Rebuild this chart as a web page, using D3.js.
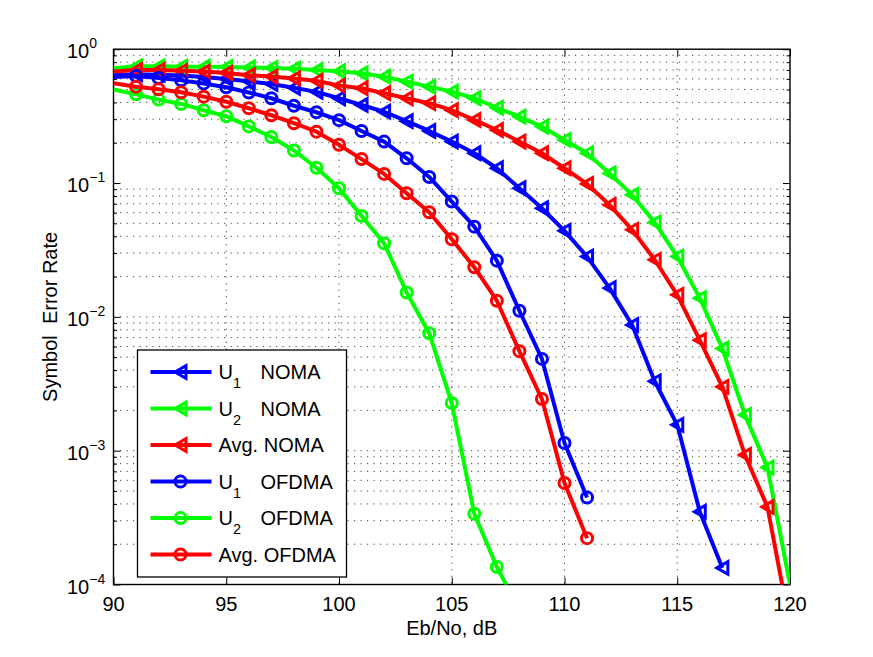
<!DOCTYPE html>
<html>
<head>
<meta charset="utf-8">
<script src="https://cdn.jsdelivr.net/npm/d3@7"></script>
<style>
  body { margin: 0; background: #fff; }
  text { font-family: "Liberation Sans", Arial, sans-serif; fill: #000; white-space: pre; }
</style>
</head>
<body>
<svg id="chart" width="873" height="657"></svg>
<script>
// Eb/No values (dB)
var ebnoNoma   = [90,91,92,93,94,95,96,97,98,99,100,101,102,103,104,105,106,107,108,109,110,111,112,113,114,115,116,117,118,119,120];
var ebnoU1Noma = [90,91,92,93,94,95,96,97,98,99,100,101,102,103,104,105,106,107,108,109,110,111,112,113,114,115,116,117];
var ebnoOfdma  = [90,91,92,93,94,95,96,97,98,99,100,101,102,103,104,105,106,107,108,109,110,111];
var ebnoU2Ofdma = [90,91,92,93,94,95,96,97,98,99,100,101,102,103,104,105,106,107,108];

// symbol error rates
var u1Noma = [0.64,0.65,0.645,0.635,0.62,0.60,0.575,0.55,0.515,0.48,0.43,0.383,0.341,0.29,0.245,0.204,0.167,0.129,0.0915,0.0648,0.0439,0.0282,0.0164,0.0087,0.0033,0.00156,0.00035,0.000133];
var u2Noma = [0.72,0.745,0.745,0.74,0.74,0.735,0.73,0.725,0.715,0.70,0.685,0.66,0.623,0.572,0.525,0.482,0.43,0.365,0.313,0.264,0.21,0.167,0.118,0.0815,0.0508,0.0282,0.0138,0.0058,0.00185,0.00075,0.0001];
var avgNoma = [0.68,0.70,0.70,0.69,0.68,0.665,0.64,0.625,0.605,0.58,0.535,0.511,0.469,0.43,0.395,0.35,0.296,0.249,0.204,0.167,0.129,0.0985,0.0686,0.0447,0.0267,0.0146,0.0067,0.003,0.00093,0.00038,0.000049];
var u1Ofdma = [0.62,0.63,0.61,0.585,0.555,0.52,0.475,0.43,0.378,0.338,0.295,0.245,0.204,0.153,0.111,0.0727,0.0472,0.0263,0.0111,0.00485,0.00114,0.000447];
var u2Ofdma = [0.5,0.46,0.42,0.39,0.35,0.315,0.265,0.221,0.175,0.13,0.0915,0.0568,0.0355,0.0152,0.00755,0.00227,0.000338,0.000135,0.000065];
var avgOfdma = [0.556,0.525,0.502,0.477,0.442,0.405,0.362,0.321,0.28,0.242,0.193,0.151,0.117,0.0839,0.0605,0.038,0.0235,0.0132,0.00554,0.00243,0.000573,0.000222];

var xTicks = [90,95,100,105,110,115,120];
var yExponents = [0,-1,-2,-3,-4];

var series = [
    {label: "U", sub: "1", rest: "NOMA",  color: "#0000ff", marker: "tri", x: ebnoU1Noma, y: u1Noma},
    {label: "U", sub: "2", rest: "NOMA",  color: "#00ff00", marker: "tri", x: ebnoNoma, y: u2Noma},
    {label: "Avg. NOMA", sub: null, rest: null, color: "#ff0000", marker: "tri", x: ebnoNoma, y: avgNoma},
    {label: "U", sub: "1", rest: "OFDMA", color: "#0000ff", marker: "circ", x: ebnoOfdma, y: u1Ofdma},
    {label: "U", sub: "2", rest: "OFDMA", color: "#00ff00", marker: "circ", x: ebnoU2Ofdma, y: u2Ofdma},
    {label: "Avg. OFDMA", sub: null, rest: null, color: "#ff0000", marker: "circ", x: ebnoOfdma, y: avgOfdma}
];

var pLeft = 113.5, pRight = 790, pTop = 49.2, pBottom = 584.5;
var svg = d3.select("#chart");

var xScale = d3.scaleLinear().domain([90, 120]).range([pLeft, pRight]);
var yScale = d3.scaleLog().domain([1e-4, 1]).range([pBottom, pTop]);

function isDecade(d) {
    var l = Math.log10(d);
    return Math.abs(l - Math.round(l)) < 1e-9;
}

// grid
var grid = svg.append("g").attr("stroke", "#000").attr("stroke-opacity", 0.75)
    .attr("stroke-width", 1).attr("stroke-dasharray", "1.2,5.3");
var minorVals = [];
yExponents.forEach(function (e) {
    if (e === 0) return;
    for (var m = 1; m <= 9; m++) minorVals.push(m * Math.pow(10, e));
});
grid.selectAll("line.h").data(minorVals.slice(1)).enter().append("line")
    .attr("x1", pLeft).attr("x2", pRight)
    .attr("y1", function (d) { return yScale(d); })
    .attr("y2", function (d) { return yScale(d); });
grid.selectAll("line.v").data(xTicks.slice(1, -1)).enter().append("line")
    .attr("y1", pTop).attr("y2", pBottom)
    .attr("x1", function (d) { return xScale(d); })
    .attr("x2", function (d) { return xScale(d); });

// axes box with inner ticks
var xAxisB = d3.axisBottom(xScale).tickValues(xTicks).tickSizeInner(-7).tickSizeOuter(0).tickFormat("");
var xAxisT = d3.axisTop(xScale).tickValues(xTicks).tickSizeInner(-7).tickSizeOuter(0).tickFormat("");
var yAxisL = d3.axisLeft(yScale).tickValues(minorVals.concat([1])).tickSizeOuter(0).tickFormat("");
var yAxisR = d3.axisRight(yScale).tickValues(minorVals.concat([1])).tickSizeOuter(0).tickFormat("");

function styleAxis(g) {
    g.select(".domain").remove();
    g.selectAll("line").attr("stroke", "#000").attr("stroke-width", 1);
}
svg.append("g").attr("transform", "translate(0," + pBottom + ")").call(xAxisB).call(styleAxis);
svg.append("g").attr("transform", "translate(0," + pTop + ")").call(xAxisT).call(styleAxis);
svg.append("g").attr("transform", "translate(" + pLeft + ",0)").call(yAxisL).call(styleAxis)
    .selectAll(".tick line").attr("x2", function (d) { return isDecade(d) ? 7 : 3.5; });
svg.append("g").attr("transform", "translate(" + pRight + ",0)").call(yAxisR).call(styleAxis)
    .selectAll(".tick line").attr("x2", function (d) { return isDecade(d) ? -7 : -3.5; });

svg.append("rect").attr("x", pLeft).attr("y", pTop)
    .attr("width", pRight - pLeft).attr("height", pBottom - pTop)
    .attr("fill", "none").attr("stroke", "#000").attr("stroke-width", 1.4);

// tick labels
svg.selectAll("text.xt").data(xTicks).enter().append("text")
    .attr("x", function (d) { return xScale(d); })
    .attr("y", pBottom + 26)
    .attr("text-anchor", "middle")
    .style("font-size", "20px")
    .text(function (d) { return d; });

var yl = svg.selectAll("text.yt").data(yExponents).enter().append("text")
    .attr("x", 67)
    .attr("y", function (d) { return yScale(Math.pow(10, d)) + 9; })
    .style("font-size", "20px");
yl.append("tspan").text("10");
yl.append("tspan").attr("dy", -10).style("font-size", "14px")
    .text(function (d) { return d === 0 ? "0" : "\u2212" + (-d); });

svg.append("text").attr("x", (pLeft + pRight) / 2).attr("y", pBottom + 50)
    .attr("text-anchor", "middle").style("font-size", "20px").text("Eb/No, dB");
svg.append("text").attr("transform", "translate(57," + ((pTop + pBottom) / 2) + ") rotate(-90)")
    .attr("text-anchor", "middle").style("font-size", "20px").text("Symbol  Error Rate");

// data
svg.append("clipPath").attr("id", "plotClip").append("rect")
    .attr("x", pLeft).attr("y", pTop).attr("width", pRight - pLeft).attr("height", pBottom - pTop);

var line = d3.line()
    .x(function (d) { return xScale(d[0]); })
    .y(function (d) { return yScale(d[1]); });

var triPath = "M-5.5,0L5.5,-6.3L5.5,6.3Z";

function drawMarker(g, s, px, py) {
    if (s.marker === "tri") {
        g.append("path").attr("d", triPath)
            .attr("transform", "translate(" + px + "," + py + ")")
            .attr("fill", "none").attr("stroke", s.color).attr("stroke-width", 3)
            .attr("stroke-linejoin", "miter");
    } else {
        g.append("circle").attr("cx", px).attr("cy", py).attr("r", 5.5)
            .attr("fill", "none").attr("stroke", s.color).attr("stroke-width", 3);
    }
}

var plot = svg.append("g").attr("clip-path", "url(#plotClip)");
series.forEach(function (s) {
    var pts = s.x.map(function (x, i) { return [x, s.y[i]]; });
    var g = plot.append("g");
    g.append("path").datum(pts).attr("d", line)
        .attr("fill", "none").attr("stroke", s.color).attr("stroke-width", 4)
        .attr("stroke-linejoin", "round");
    pts.forEach(function (p) {
        if (p[0] > 90 && p[0] < 120 && p[1] >= 1.1e-4) {
            drawMarker(g, s, xScale(p[0]), yScale(p[1]));
        }
    });
});

// legend
var lgX = 137.5, lgY = 350, lgW = 209, lgRow = 36.5;
var lg = svg.append("g");
lg.append("rect").attr("x", lgX).attr("y", lgY).attr("width", lgW).attr("height", lgRow * series.length + 8)
    .attr("fill", "#fff").attr("stroke", "#000").attr("stroke-width", 1.3);
series.forEach(function (s, i) {
    var cy = lgY + 22 + i * lgRow;
    lg.append("line").attr("x1", lgX + 13).attr("x2", lgX + 74).attr("y1", cy).attr("y2", cy)
        .attr("stroke", s.color).attr("stroke-width", 4);
    drawMarker(lg, s, lgX + 43, cy);
    var t = lg.append("text").attr("x", lgX + 81).attr("y", cy + 7).style("font-size", "20px");
    t.append("tspan").text(s.label);
    if (s.sub) {
        t.append("tspan").attr("dy", 9).style("font-size", "14.5px").text(s.sub);
        t.append("tspan").attr("x", lgX + 123).attr("dy", -9).text(s.rest);
    }
});
</script>
</body>
</html>
